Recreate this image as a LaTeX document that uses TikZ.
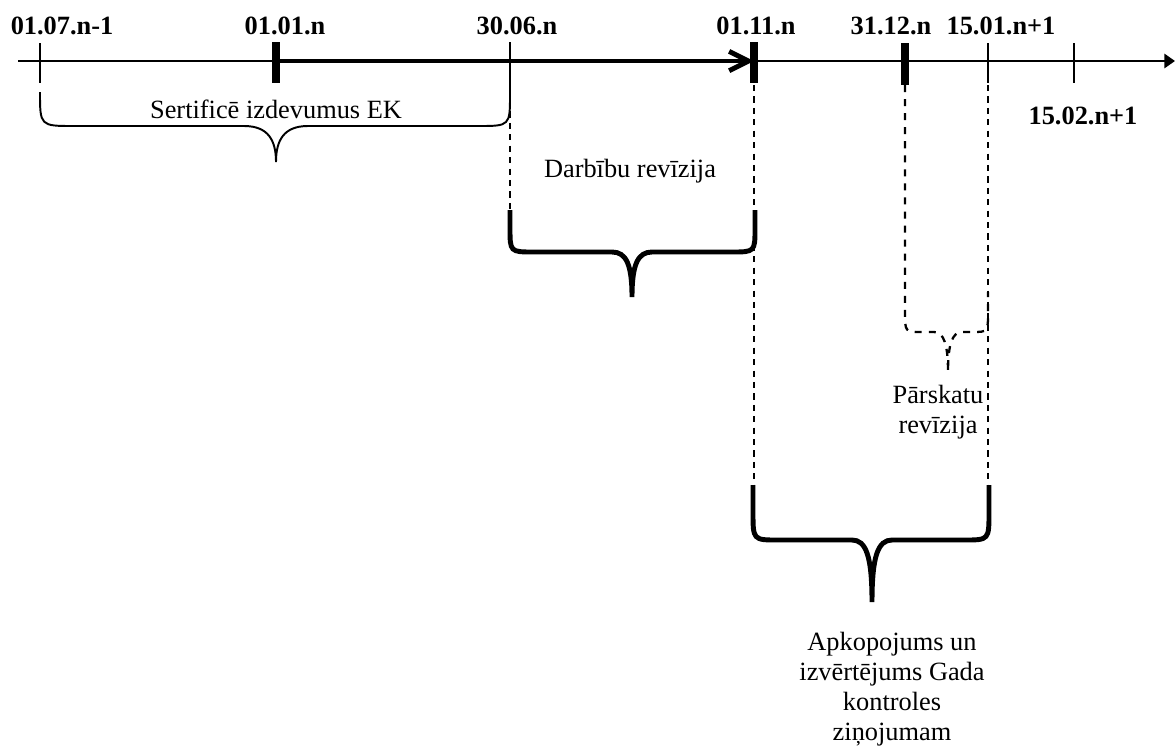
\documentclass[tikz,border=0pt]{standalone}
\usepackage{fontspec}
\setmainfont{Liberation Serif}
\usetikzlibrary{arrows.meta}

\newcommand{\txtsize}{\fontsize{15}{17}\selectfont}

\begin{document}
\begin{tikzpicture}[x = 0.02cm, y = -0.02cm,
  datum/.style = {font = \txtsize\bfseries, anchor = base, inner sep = 0pt},
  note/.style = {font = \txtsize, anchor = base, inner sep = 0pt, align = center},
  axisthin/.style = {line width = 1.4pt},
  axisthick/.style = {line width = 2.8pt},
  tickthin/.style = {line width = 0.85pt},
  tickthick/.style = {line width = 4pt},
  bracethin/.style = {line width = 1.1pt},
  bracethick/.style = {line width = 2.8pt},
  guide/.style = {line width = 0.85pt, dash pattern = on 3.5pt off 3pt},
  guidebrace/.style = {line width = 1.3pt, dash pattern = on 4pt off 4pt}]

\useasboundingbox (0,0) rectangle (1176,748);

\coordinate (a0) at (18,61);
\coordinate (t1) at (40,61);
\coordinate (t2) at (276,61);
\coordinate (t3) at (510,61);
\coordinate (t4) at (754,61);
\coordinate (t5) at (905,61);
\coordinate (t6) at (988,61);
\coordinate (t7) at (1074,61);
\coordinate (a1) at (1175,61);

\node[datum] (d1) at (62,34) {01.07.n-1};
\node[datum] (d2) at (285,34) {01.01.n};
\node[datum] (d3) at (517,34) {30.06.n};
\node[datum] (d4) at (756,34) {01.11.n};
\node[datum] (d5) at (891,34) {31.12.n};
\node[datum] (d6) at (1001,34) {15.01.n+1};
\node[datum] (d7) at (1083,124) {15.02.n+1};

% multi-line notes: base = last line
\node[note] (n1) at (276,118) {Sertificē izdevumus EK};
\node[note] (n2) at (630,177) {Darbību revīzija};
\node[note] (n3) at (938,433) {Pārskatu\\revīzija};
\node[note] (n4) at (892,740) {Apkopojums un\\izvērtējums Gada\\kontroles\\ziņojumam};

% time axis
\draw [axisthin] (a0) -- (t2);
\draw [axisthick, -{Straight Barb[length = 11pt, width = 11pt]}] (t2) -- (t4);
\draw [axisthin, -{Triangle[length = 6pt, width = 8pt]}] (t4) -- (a1);

\draw [tickthin] (40,43) -- (40,83);
\draw [tickthick] (276,42) -- (276,83);
\draw [tickthin] (510,42) -- (510,83);
\draw [tickthick] (754,42) -- (754,83);
\draw [tickthick] (905,43) -- (905,85);
\draw [tickthin] (988,43) -- (988,83);
\draw [tickthin] (1074,43) -- (1074,83);

% braces
\draw [bracethin] (40,92) .. controls (40,126) .. (74,126) -- (244,126) .. controls (268,126) and (276,140) .. (276,162) .. controls (276,140) and (284,126) .. (308,126) -- (478,126) .. controls (510,126) .. (510,94) -- (510,83);
\draw [bracethick] (510,210) -- (510,228) .. controls (510,252) .. (534,252) -- (612,252) .. controls (626,252) and (632,264) .. (632,297) .. controls (632,264) and (638,252) .. (652,252) -- (731,252) .. controls (755,252) .. (755,228) -- (755,210);
\draw [bracethick] (753,485) -- (753,512) .. controls (753,540) .. (778,540) -- (852,540) .. controls (866,540) and (872,556) .. (872,602) .. controls (872,556) and (878,540) .. (892,540) -- (964,540) .. controls (989,540) .. (989,512) -- (989,485);
\draw [guidebrace] (905,85) -- (905,312) .. controls (905,332) .. (922,332) -- (934,332) .. controls (944,332) and (948,345) .. (948,372) .. controls (948,345) and (952,332) .. (962,332) -- (972,332) .. controls (988,332) .. (988,312) -- (988,292);

% dashed guides
\draw [guide] (510,100) -- (510,210);
\draw [guide] (754,85) -- (754,485);
\draw [guide] (988,85) -- (988,485);
\end{tikzpicture}
\end{document}
